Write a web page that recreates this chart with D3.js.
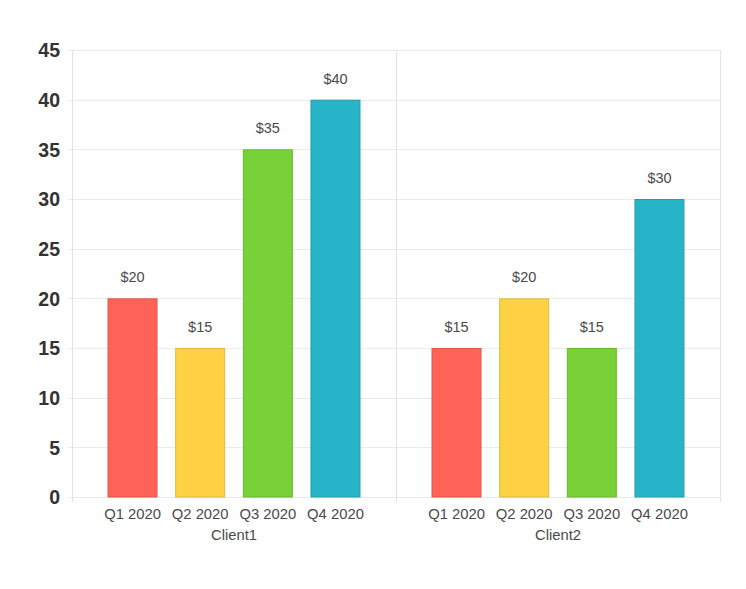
<!DOCTYPE html>
<html><head><meta charset="utf-8">
<script src="https://cdn.jsdelivr.net/npm/d3@7"></script>
<style>body{margin:0;background:#fff;}svg{display:block;font-family:"Liberation Sans",Arial,sans-serif;}</style>
</head><body>
<svg id="c" width="746" height="589"></svg>
<script>
const clients = ["Client1", "Client2"];
const quarters = ["Q1 2020", "Q2 2020", "Q3 2020", "Q4 2020"];
const client1Values = [20, 15, 35, 40];
const client2Values = [15, 20, 15, 30];
const yTicks = [0, 5, 10, 15, 20, 25, 30, 35, 40, 45];
const colors = ["#ff6358", "#ffd246", "#78d237", "#28b4c8"];
const strokes = ["#e0564c", "#e0b83d", "#69b830", "#239eb0"];

const values = [client1Values, client2Values];
const svg = d3.select("#c");
const m = {l: 72, r: 26, t: 50, b: 92};
const W = 746, H = 589;
const x0 = d3.scaleBand().domain(clients).range([m.l, W - m.r]);
const x1 = d3.scaleBand().domain(quarters).range([0, x0.bandwidth()]).paddingInner(0.261).paddingOuter(0.525);
const y = d3.scaleLinear().domain([0, 45]).range([H - m.b, m.t]);

const grid = svg.append("g");
yTicks.forEach(t => {
  grid.append("line").attr("x1", m.l - 4).attr("x2", W - m.r)
    .attr("y1", Math.round(y(t)) + 0.5).attr("y2", Math.round(y(t)) + 0.5)
    .attr("stroke", "#ebebeb");
});
const bounds = clients.map(c => x0(c)).concat([x0(clients[clients.length - 1]) + x0.bandwidth()]);
bounds.forEach(b => {
  grid.append("line").attr("x1", Math.round(b) + 0.5).attr("x2", Math.round(b) + 0.5)
    .attr("y1", m.t).attr("y2", y(0) + 5).attr("stroke", "#e2e2e2");
});

// y-axis
const yAxis = svg.append("g").attr("transform", `translate(${m.l},0)`)
  .call(d3.axisLeft(y).tickValues(yTicks).tickSize(0).tickPadding(12));
yAxis.select(".domain").remove();
yAxis.selectAll("text").attr("font-size", 19.5).attr("font-weight", "bold").attr("fill", "#333")
  .attr("font-family", "'Liberation Sans',Arial,sans-serif").attr("dy", "0.35em");

clients.forEach((c, ci) => {
  const g = svg.append("g").attr("transform", `translate(${x0(c)},0)`);
  g.selectAll("rect").data(values[ci]).join("rect")
    .attr("x", (d, i) => x1(quarters[i]) + 0.5)
    .attr("y", d => y(d) + 0.5)
    .attr("width", x1.bandwidth() - 1)
    .attr("height", d => y(0) - y(d) - 0.5)
    .attr("fill", (d, i) => colors[i])
    .attr("stroke", (d, i) => strokes[i]);
  g.selectAll("text.lbl").data(values[ci]).join("text").attr("class", "lbl")
    .attr("x", (d, i) => x1(quarters[i]) + x1.bandwidth() / 2)
    .attr("y", d => y(d) - 16)
    .attr("text-anchor", "middle").attr("font-size", 14.5).attr("fill", "#4a4a4a")
    .text(d => "$" + d);
  const xa = g.append("g").attr("transform", `translate(0,${y(0)})`)
    .call(d3.axisBottom(x1).tickSize(0).tickPadding(11));
  xa.select(".domain").remove();
  xa.selectAll("text").attr("font-size", 14.8).attr("fill", "#4a4a4a")
    .attr("font-family", "'Liberation Sans',Arial,sans-serif");
  g.append("text").attr("x", x0.bandwidth() / 2).attr("y", y(0) + 43)
    .attr("text-anchor", "middle").attr("font-size", 14.8).attr("fill", "#4a4a4a").text(c);
});
</script>
</body></html>
